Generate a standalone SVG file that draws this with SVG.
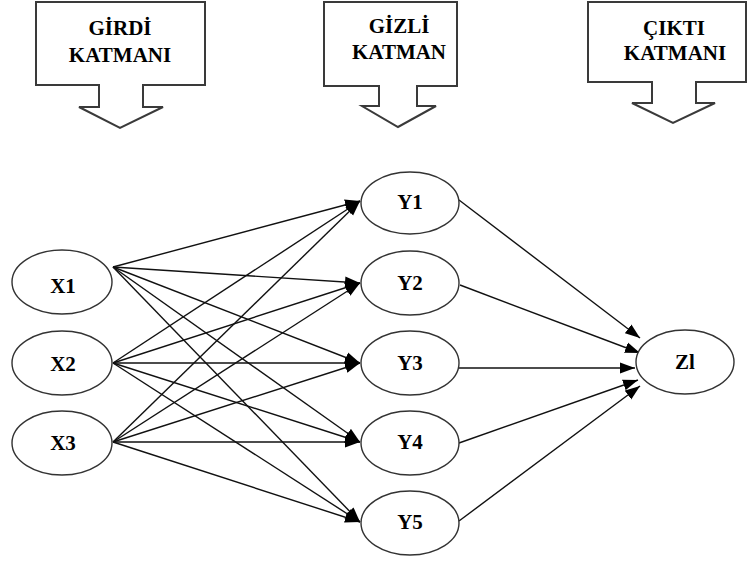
<svg xmlns="http://www.w3.org/2000/svg" width="750" height="562" viewBox="0 0 750 562">
<style>
.co{fill:#fff;stroke:#3a3a3a;stroke-width:2;stroke-linejoin:miter}
.hd{font-family:'Liberation Serif','Times New Roman',serif;font-weight:bold;font-size:21px;text-anchor:middle;fill:#000}
.nd ellipse{fill:#fff;stroke:#333;stroke-width:1.4}
.nt{font-family:'Liberation Serif','Times New Roman',serif;font-weight:bold;font-size:21px;text-anchor:middle;fill:#000}
.ln line{stroke:#111;stroke-width:1.4;marker-end:url(#ah)}
</style>
<defs>
<marker id="ah" markerUnits="userSpaceOnUse" markerWidth="16" markerHeight="12" refX="15" refY="6" orient="auto">
<path d="M0,0.5 L15,6 L0,11.5 Z" fill="#000"/>
</marker>
</defs>
<rect width="750" height="562" fill="#fff"/>
<g id="callout-girdi">
<path class="co" d="M36,2 H205 V85 H143 V107 H163 L120,128 L79,107 H99 V85 H36 Z"/>
<text class="hd" x="120" y="35">GİRDİ</text>
<text class="hd" x="120" y="62">KATMANI</text>
</g>
<g id="callout-gizli">
<path class="co" d="M324,2 H457 V86 H417 V106 H436 L398,127 L362,106 H379 V86 H324 Z"/>
<text class="hd" x="399" y="33">GİZLİ</text>
<text class="hd" x="399" y="59">KATMAN</text>
</g>
<g id="callout-cikti">
<path class="co" d="M588,2 H746 V82 H696 V103 H715 L673,123 L632,103 H652 V82 H588 Z"/>
<text class="hd" x="674" y="35">ÇIKTI</text>
<text class="hd" x="675" y="60">KATMANI</text>
</g>
<g id="connectors" class="ln">
<line x1="113" y1="267" x2="360" y2="201"/>
<line x1="113" y1="267" x2="360" y2="283"/>
<line x1="113" y1="267" x2="360" y2="363"/>
<line x1="113" y1="267" x2="360" y2="442"/>
<line x1="113" y1="267" x2="360" y2="522"/>
<line x1="113" y1="363" x2="360" y2="201"/>
<line x1="113" y1="363" x2="360" y2="283"/>
<line x1="113" y1="363" x2="360" y2="363"/>
<line x1="113" y1="363" x2="360" y2="442"/>
<line x1="113" y1="363" x2="360" y2="522"/>
<line x1="113" y1="442" x2="360" y2="201"/>
<line x1="113" y1="442" x2="360" y2="283"/>
<line x1="113" y1="442" x2="360" y2="363"/>
<line x1="113" y1="442" x2="360" y2="442"/>
<line x1="113" y1="442" x2="360" y2="522"/>
<line x1="459" y1="200" x2="640" y2="338"/>
<line x1="460" y1="285" x2="640" y2="353"/>
<line x1="459" y1="368" x2="635" y2="368"/>
<line x1="459" y1="443" x2="638" y2="380"/>
<line x1="459" y1="521" x2="640" y2="386"/>
</g>
<g id="X1" class="nd"><ellipse cx="62" cy="282" rx="50" ry="32"/><text class="nt" x="63" y="293">X1</text></g>
<g id="X2" class="nd"><ellipse cx="62" cy="363" rx="50" ry="32"/><text class="nt" x="63" y="371">X2</text></g>
<g id="X3" class="nd"><ellipse cx="62" cy="443" rx="50" ry="32"/><text class="nt" x="63" y="450">X3</text></g>
<g id="Y1" class="nd"><ellipse cx="410" cy="203" rx="49" ry="31"/><text class="nt" x="410" y="209">Y1</text></g>
<g id="Y2" class="nd"><ellipse cx="410" cy="283" rx="49" ry="32"/><text class="nt" x="410" y="290">Y2</text></g>
<g id="Y3" class="nd"><ellipse cx="410" cy="363" rx="49" ry="32"/><text class="nt" x="410" y="370">Y3</text></g>
<g id="Y4" class="nd"><ellipse cx="410" cy="443" rx="49" ry="32"/><text class="nt" x="410" y="449">Y4</text></g>
<g id="Y5" class="nd"><ellipse cx="410" cy="523" rx="49" ry="32"/><text class="nt" x="410" y="529">Y5</text></g>
<g id="Z1" class="nd"><ellipse cx="685" cy="362" rx="49" ry="32"/><text class="nt" x="685" y="369">Zl</text></g>
</svg>
